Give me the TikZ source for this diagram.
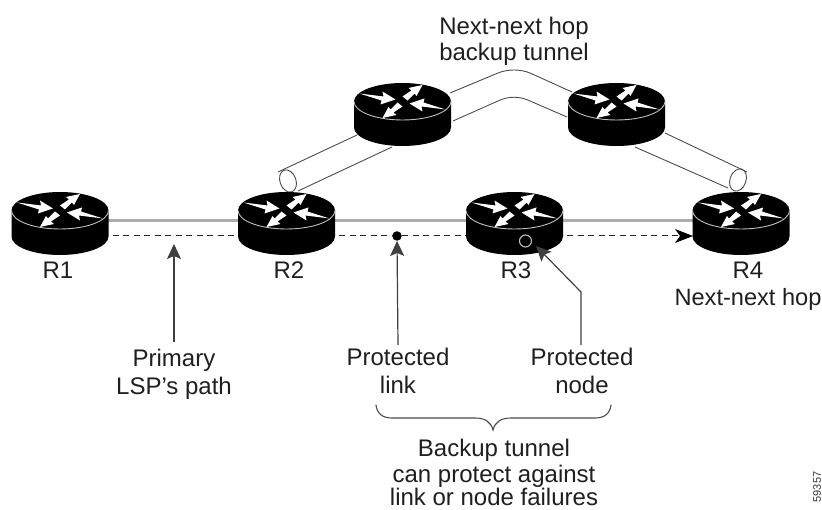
\documentclass[tikz,border=0pt]{standalone}
\usepackage{fontspec}
\setmainfont{Liberation Sans}
\usetikzlibrary{arrows.meta}
\definecolor{linkgray}{gray}{0.68}
\definecolor{tubeline}{gray}{0.3}
\tikzset{
  routerbox/.style={inner sep=0pt,minimum width=97pt,minimum height=64pt},
  lbl/.style={inner sep=0pt,anchor=base,font=\fontsize{24}{26}\selectfont,text=black!88},
  tube/.style={draw=tubeline,line width=0.9pt},
  pointer/.style={draw=black!75,line width=1.2pt,-{Stealth[length=15pt,width=14pt,inset=3pt]}},
  primary/.style={draw=linkgray,line width=3pt},
  lsp/.style={draw=black!85,line width=1pt,dash pattern=on 6pt off 4.5pt}
}
\newcommand{\routericon}[2]{%
  \begin{scope}[shift={(#1,#2)}]
    \fill[black] (-48.5,0) -- (-48.5,26) arc[start angle=180,end angle=0,x radius=48.5,y radius=18.5] -- (48.5,0) -- cycle;
    \fill[black] (0,0) ellipse[x radius=48.5,y radius=18.5];
    \draw[black!25,line width=0.9pt] (-48.5,0) arc[start angle=180,end angle=0,x radius=48.5,y radius=18.5];
    \fill[white] (-43,-8) -- (-19,-5) -- (-20,-10) -- (-7,-2) -- (-22,3) -- (-21,-1) -- cycle;
    \fill[white] (43,8) -- (19,5) -- (20,10) -- (7,2) -- (22,-3) -- (21,1) -- cycle;
    \fill[white] (0,-5) -- (9,-11) -- (6,-13.5) -- (20,-16.5) -- (14,-5.5) -- (12,-8) -- (5,-1) -- cycle;
    \fill[white] (0,5) -- (-9,11) -- (-6,13.5) -- (-20,16.5) -- (-14,5.5) -- (-12,8) -- (-5,1) -- cycle;
  \end{scope}}
\begin{document}
\begin{tikzpicture}[x=1pt,y=-1pt]
\useasboundingbox (0,0) rectangle (822,510);
\coordinate (tl1) at (278,172);
\coordinate (tl2) at (298,191);
\coordinate (tr1) at (747,172);
\coordinate (tr2) at (728,188);
\coordinate (dotc) at (397,236);
\coordinate (ptr1) at (174,342);
\coordinate (ptr2) at (398,345);
\coordinate (ptr3) at (581,345);
\coordinate (tipR3) at (536,246);
\coordinate (bl) at (376,405);
\coordinate (br) at (611,405);
% router nodes
\node[routerbox] (R1) at (60,223.5) {};
\node[routerbox] (R2) at (286.5,223.5) {};
\node[routerbox] (R3) at (514.5,223.5) {};
\node[routerbox] (R4) at (741,223.5) {};
\node[routerbox] (R5) at (402.5,114.5) {};
\node[routerbox] (R6) at (616.5,114.5) {};
% links
\draw[primary] ([yshift=2.5pt]R1.center) -- ([yshift=2.5pt]R2.center);
\draw[primary] ([yshift=2.5pt]R2.center) -- ([yshift=2.5pt]R3.center);
\draw[primary] ([yshift=2.5pt]R3.center) -- ([yshift=2.5pt]R4.center);
\draw[lsp] ([yshift=-12.5pt]R1.center) -- ([yshift=-12.5pt]R2.center);
\draw[lsp] ([yshift=-12.5pt]R2.center) -- ([yshift=-12.5pt]R3.center);
\draw[lsp] ([yshift=-12.5pt]R3.center) -- ([yshift=-12.5pt]R4.center);
% tubes
\draw[tube] (tl1) -- (357,135);
\draw[tube] (tl2) -- (392,147);
\draw[tube] (450,93) -- (498,73) .. controls (508,69) and (520,69) .. (530,73) -- (572,92);
\draw[tube] (453,121) -- (498,101) .. controls (508,96) and (520,96) .. (530,101) -- (567,117);
\draw[tube] (665,133) -- (tr1);
\draw[tube] (635,147) -- (tr2);
\draw[tube,rotate around={20:(288,181)}] (288,181) ellipse[x radius=8,y radius=11.5];
\draw[tube,rotate around={-20:(738,180)}] (738,180) ellipse[x radius=8,y radius=11.5];
% router icons
\routericon{60}{210.5}
\routericon{286.5}{210.5}
\routericon{514.5}{210.5}
\routericon{741}{210.5}
\routericon{402.5}{101.5}
\routericon{616.5}{101.5}
% lsp arrow head
\coordinate (tipR4) at (693,236);
\fill[black] (tipR4) -- (675,229) -- (680,236) -- (675,243) -- cycle;
% markers
\node[circle,fill=black,inner sep=0pt,minimum size=9.5pt] (dot) at (dotc) {};
\node[circle,draw=black!25,line width=1.1pt,inner sep=0pt,minimum size=12pt] (ring) at (525.5,241) {};
% pointers
\draw[pointer] (ptr1) -- (174,244);
\draw[pointer] (ptr2) -- (dot.south);
\draw[pointer] (ptr3) -- (581,292) -- (tipR3);
% labels
\node[lbl] (l1) at (58,279) {R1};
\node[lbl] (l2) at (289,279) {R2};
\node[lbl] (l3) at (516,279) {R3};
\node[lbl] (l4) at (748,279) {R4};
\node[lbl,font=\fontsize{23.6}{26}\selectfont] (l5) at (748,306) {Next-next hop};
\node[lbl] (l6) at (514,35) {Next-next hop};
\node[lbl] (l7) at (514,61) {backup tunnel};
\node[lbl] (l8) at (174,367) {Primary};
\node[lbl] (l9) at (174,395) {LSP's path};
\node[lbl] (l10) at (398,366) {Protected};
\node[lbl] (l11) at (398,394) {link};
\node[lbl] (l12) at (582,366) {Protected};
\node[lbl] (l13) at (582,394) {node};
\node[lbl] (l14) at (494,456) {Backup tunnel};
\node[lbl] (l15) at (494,482) {can protect against};
\node[lbl] (l16) at (494,505) {link or node failures};
\node[inner sep=0pt,rotate=90,font=\fontsize{11}{12}\selectfont,text=black!80] (l17) at (817,487) {59357};
% brace
\draw[draw=black!70,line width=1.1pt,line cap=round]
  (bl) .. controls (377,414) and (383,418) .. (392,418) -- (475,418)
  .. controls (485,418) and (491,422) .. (493,430)
  .. controls (495,422) and (501,418) .. (511,418) -- (595,418)
  .. controls (604,418) and (610,414) .. (br);
\end{tikzpicture}
\end{document}
